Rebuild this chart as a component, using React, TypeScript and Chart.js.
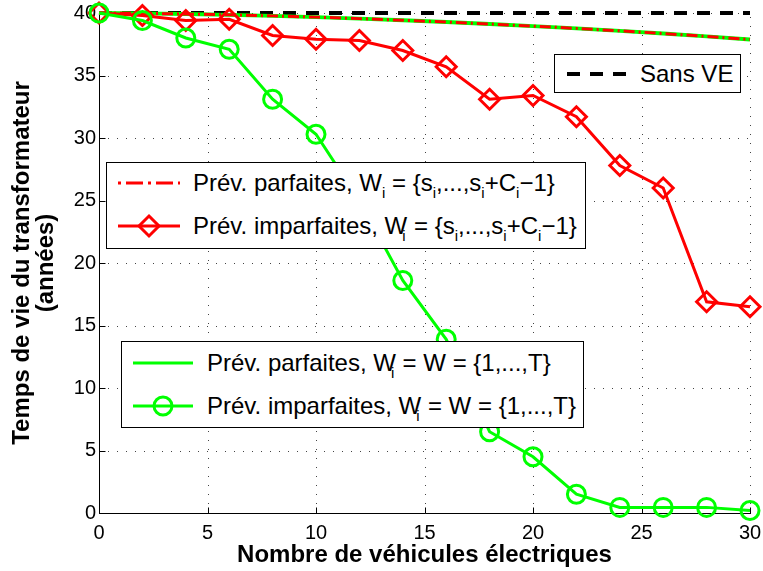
import React, { useEffect, useRef } from 'react';
import { Chart, registerables } from 'chart.js';

Chart.register(...registerables);

// ---------- data ----------
const vehicles = [0, 2, 4, 6, 8, 10, 12, 14, 16, 18, 20, 22, 24, 26, 28, 30];
const sansVE = [40, 40, 40, 40, 40, 40, 40, 40, 40, 40, 40, 40, 40, 40, 40, 40];
const parfaitesSi = [40, 39.97, 39.92, 39.85, 39.77, 39.67, 39.55, 39.42, 39.28, 39.12, 38.95, 38.77, 38.57, 38.36, 38.13, 37.88];
const imparfaitesSi = [40, 39.8, 39.4, 39.5, 38.2, 37.9, 37.8, 37.0, 35.7, 33.1, 33.4, 31.7, 27.8, 26.0, 16.9, 16.5];
const parfaitesW = [40, 39.97, 39.92, 39.85, 39.77, 39.67, 39.55, 39.42, 39.28, 39.12, 38.95, 38.77, 38.57, 38.36, 38.13, 37.88];
const imparfaitesW = [40, 39.4, 38.0, 37.1, 33.1, 30.3, 25.0, 18.6, 13.9, 6.5, 4.5, 1.5, 0.45, 0.45, 0.45, 0.2];
const xTickValues = [0, 5, 10, 15, 20, 25, 30];
const yTickValues = [0, 5, 10, 15, 20, 25, 30, 35, 40];
const xTitle = 'Nombre de véhicules électriques';
const yTitle = ['Temps de vie du transformateur', '(années)'];

const RED = '#ff0000';
const GREEN = '#00ff00';
const FONT = '"Liberation Sans", Arial, Helvetica, sans-serif';

const pts = (arr: number[]) => vehicles.map((v, i) => ({ x: v, y: arr[i] }));

const matlabAxes = {
  id: 'matlabAxes',
  beforeDatasetsDraw(chart: any) {
    const { ctx, chartArea, scales } = chart;
    const { left, right, top, bottom } = chartArea;
    const xs = scales.x;
    const ys = scales.y;
    ctx.save();
    ctx.lineWidth = 1;
    ctx.strokeStyle = '#444';
    ctx.setLineDash([1, 8]);
    xs.ticks.forEach((t: any) => {
      const px = Math.round(xs.getPixelForValue(t.value)) + 0.5;
      ctx.beginPath();
      ctx.moveTo(px, bottom);
      ctx.lineTo(px, top);
      ctx.stroke();
    });
    ys.ticks.forEach((t: any) => {
      const py = Math.round(ys.getPixelForValue(t.value)) + 0.5;
      ctx.beginPath();
      ctx.moveTo(left, py);
      ctx.lineTo(right, py);
      ctx.stroke();
    });
    ctx.setLineDash([]);
    ctx.strokeStyle = '#000';
    const ax = Math.round(left) + 0.5;
    const ay = Math.round(bottom) + 0.5;
    ctx.beginPath();
    ctx.moveTo(ax, top);
    ctx.lineTo(ax, ay);
    ctx.lineTo(right + 1, ay);
    ctx.stroke();
    xs.ticks.forEach((t: any) => {
      const px = Math.round(xs.getPixelForValue(t.value)) + 0.5;
      ctx.beginPath();
      ctx.moveTo(px, ay);
      ctx.lineTo(px, ay - 6);
      ctx.stroke();
    });
    ys.ticks.forEach((t: any) => {
      const py = Math.round(ys.getPixelForValue(t.value)) + 0.5;
      ctx.beginPath();
      ctx.moveTo(ax, py);
      ctx.lineTo(ax + 6, py);
      ctx.stroke();
    });
    ctx.restore();
  },
};

const subStyle: React.CSSProperties = { fontSize: 15, verticalAlign: -7, lineHeight: 0 };
const tuckStyle: React.CSSProperties = {
  fontSize: 15,
  lineHeight: 0,
  verticalAlign: -7,
  display: 'inline-block',
  width: 0,
  position: 'relative',
  left: -5,
};
const S = () => <sub style={subStyle}>i</sub>;
const T = () => <sub style={tuckStyle}>i</sub>;

const textStyle = (left: number, baseline: number): React.CSSProperties => ({
  position: 'absolute',
  left,
  top: baseline - 22,
  fontFamily: FONT,
  fontSize: 24,
  lineHeight: '28px',
  whiteSpace: 'nowrap',
  color: '#000',
});

const boxStyle = (left: number, top: number, width: number, height: number): React.CSSProperties => ({
  position: 'absolute',
  left,
  top,
  width,
  height,
  boxSizing: 'border-box',
  border: '1px solid #000',
  background: '#fff',
});

const Sample = ({ left, cy, width, color, lw, dash, marker }: { left: number; cy: number; width: number; color: string; lw: number; dash?: string; marker?: 'diamond' | 'circle' }) => (
  <svg style={{ position: 'absolute', left, top: cy - 14 }} width={width} height={28}>
    <line x1={0} y1={14} x2={width} y2={14} stroke={color} strokeWidth={lw} strokeDasharray={dash} />
    {marker === 'diamond' && (
      <polygon points={`${width / 2},4 ${width / 2 + 10},14 ${width / 2},24 ${width / 2 - 10},14`} fill="none" stroke={color} strokeWidth={3} />
    )}
    {marker === 'circle' && <circle cx={width / 2} cy={14} r={9} fill="none" stroke={color} strokeWidth={3} />}
  </svg>
);

export default function App() {
  const canvasRef = useRef<HTMLCanvasElement | null>(null);

  useEffect(() => {
    if (!canvasRef.current) return;
    const tickFont = { family: FONT, size: 20 };
    const titleFont = { family: FONT, size: 24, weight: 'bold' as const, lineHeight: 1.0 };
    const chart = new Chart(canvasRef.current, {
      type: 'line',
      data: {
        datasets: [
          {
            label: 'Sans VE',
            data: pts(sansVE),
            borderColor: '#000',
            borderWidth: 4,
            borderDash: [13, 10],
            pointRadius: 0,
            order: 4,
            clip: false as any,
          },
          {
            label: 'Prév. parfaites, W_i = W = {1,...,T}',
            data: pts(parfaitesW),
            borderColor: GREEN,
            borderWidth: 4,
            pointRadius: 0,
            order: 3,
            clip: false as any,
          },
          {
            label: 'Prév. parfaites, W_i = {s_i,...,s_i+C_i-1}',
            data: pts(parfaitesSi),
            borderColor: RED,
            borderWidth: 3,
            borderDash: [11, 4, 2, 4],
            pointRadius: 0,
            order: 2,
            clip: false as any,
          },
          {
            label: 'Prév. imparfaites, W_i = {s_i,...,s_i+C_i-1}',
            data: pts(imparfaitesSi),
            borderColor: RED,
            borderWidth: 3,
            pointStyle: 'rectRot',
            pointRadius: 10,
            pointBorderWidth: 3,
            pointBorderColor: RED,
            pointBackgroundColor: 'rgba(0,0,0,0)',
            order: 1,
            clip: false as any,
          },
          {
            label: 'Prév. imparfaites, W_i = W = {1,...,T}',
            data: pts(imparfaitesW),
            borderColor: GREEN,
            borderWidth: 3,
            pointStyle: 'circle',
            pointRadius: 9,
            pointBorderWidth: 3,
            pointBorderColor: GREEN,
            pointBackgroundColor: 'rgba(0,0,0,0)',
            order: 0,
            clip: false as any,
          },
        ],
      },
      options: {
        animation: false,
        responsive: false,
        maintainAspectRatio: false,
        events: [],
        layout: { padding: { left: 0, top: 12, right: 11, bottom: 0 } },
        plugins: { legend: { display: false }, tooltip: { enabled: false } },
        scales: {
          x: {
            type: 'linear',
            min: 0,
            max: 30,
            grid: { display: false, drawTicks: false, tickLength: 0 },
            border: { display: false },
            ticks: { font: tickFont, color: '#000', padding: 8, maxRotation: 0, autoSkip: false },
            afterBuildTicks: (s: any) => {
              s.ticks = xTickValues.map((v) => ({ value: v }));
            },
            afterFit: (s: any) => {
              s.height = 58;
              s.paddingLeft = 0;
              s.paddingRight = 0;
              s.paddingTop = 0;
              s.paddingBottom = 0;
            },
            title: { display: true, text: xTitle, font: titleFont, color: '#000', padding: { top: 0, bottom: 4 } },
          },
          y: {
            type: 'linear',
            min: 0,
            max: 40,
            grid: { display: false, drawTicks: false, tickLength: 0 },
            border: { display: false },
            ticks: { font: tickFont, color: '#000', padding: 3, autoSkip: false },
            afterBuildTicks: (s: any) => {
              s.ticks = yTickValues.map((v) => ({ value: v }));
            },
            afterFit: (s: any) => {
              s.width = 99;
              s.paddingLeft = 0;
              s.paddingRight = 0;
              s.paddingTop = 0;
              s.paddingBottom = 0;
            },
            title: { display: true, text: yTitle, font: titleFont, color: '#000', padding: { top: 10, bottom: 0 } },
          },
        },
      },
      plugins: [matlabAxes],
    } as any);
    return () => chart.destroy();
  }, []);

  return (
    <div style={{ position: 'fixed', left: 0, top: 0, width: 763, height: 571, background: '#fff', overflow: 'hidden' }}>
      <canvas ref={canvasRef} width={763} height={571} style={{ display: 'block', width: 763, height: 571 }} />

      {/* Sans VE legend */}
      <div style={boxStyle(554, 54, 187, 39)} />
      <Sample left={567} cy={74} width={60} color="#000" lw={4} dash="13 10" />
      <span style={textStyle(640, 82)}>Sans VE</span>

      {/* Red legend */}
      <div style={boxStyle(106, 162, 480, 87)} />
      <Sample left={118} cy={183} width={62} color={RED} lw={3} dash="3 5 17 5" />
      <span style={textStyle(193, 191)}>
        Prév. parfaites, W<S /> = {'{'}s<S />,...,s<S />+C<S />−1{'}'}
      </span>
      <Sample left={118} cy={226} width={62} color={RED} lw={3} marker="diamond" />
      <span style={textStyle(193, 234)}>
        Prév. imparfaites, W<T /> = {'{'}s<S />,...,s<S />+C<S />−1{'}'}
      </span>

      {/* Green legend */}
      <div style={boxStyle(121, 341, 463, 87)} />
      <Sample left={133} cy={363} width={60} color={GREEN} lw={3} />
      <span style={textStyle(207, 371)}>
        Prév. parfaites, W<T /> = W = {'{'}1,...,T{'}'}
      </span>
      <Sample left={133} cy={406} width={60} color={GREEN} lw={3} marker="circle" />
      <span style={textStyle(207, 414)}>
        Prév. imparfaites, W<T /> = W = {'{'}1,...,T{'}'}
      </span>
    </div>
  );
}
